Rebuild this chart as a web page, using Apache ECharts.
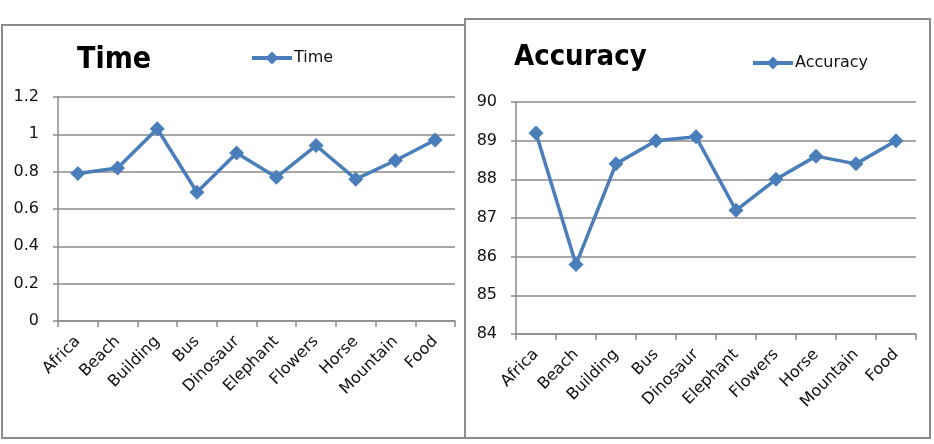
<!DOCTYPE html>
<html>
<head>
<meta charset="utf-8">
<script src="https://cdn.jsdelivr.net/npm/echarts@6/dist/echarts.min.js"></script>
<style>
  html, body { margin: 0; padding: 0; background: #fff; }
  #chart { width: 934px; height: 444px; }
</style>
</head>
<body>
<div id="chart"></div>
<script>
  // categories and values
  var categories = ['Africa', 'Beach', 'Building', 'Bus', 'Dinosaur', 'Elephant', 'Flowers', 'Horse', 'Mountain', 'Food'];
  var timeValues = [0.79, 0.82, 1.03, 0.69, 0.90, 0.77, 0.94, 0.76, 0.86, 0.97];
  var accuracyValues = [89.2, 85.8, 88.4, 89.0, 89.1, 87.2, 88.0, 88.6, 88.4, 89.0];
  var timeTicks = [0, 0.2, 0.4, 0.6, 0.8, 1, 1.2];
  var accuracyTicks = [84, 85, 86, 87, 88, 89, 90];

  var lineColor = '#4a7ebb';
  var axisGray = '#8a8a8a';
  var font = 'DejaVu Sans';

  function xAxisOf (idx) {
    return {
      type: 'category',
      gridIndex: idx,
      data: categories,
      boundaryGap: true,
      axisLine: { lineStyle: { color: axisGray, width: 1.5 } },
      axisTick: { show: true, length: 6, lineStyle: { color: axisGray, width: 1.5 } },
      axisLabel: { rotate: 45, fontSize: 16, color: '#111', fontFamily: font, margin: 18, interval: 0 }
    };
  }

  function yAxisOf (idx, ticks) {
    return {
      type: 'value',
      gridIndex: idx,
      min: ticks[0],
      max: ticks[ticks.length - 1],
      interval: ticks[1] - ticks[0],
      axisLine: { show: true, lineStyle: { color: axisGray, width: 1.5 } },
      axisTick: { show: true, length: 5, lineStyle: { color: axisGray, width: 1.5 } },
      splitLine: { lineStyle: { color: axisGray, width: 1.5 } },
      axisLabel: {
        fontSize: 16,
        color: '#111',
        fontFamily: font,
        margin: 19,
        formatter: function (v) { return String(Math.round(v * 10) / 10); }
      }
    };
  }

  function seriesOf (name, idx, data) {
    return {
      name: name,
      type: 'line',
      xAxisIndex: idx,
      yAxisIndex: idx,
      data: data,
      symbol: 'diamond',
      symbolSize: 15,
      lineStyle: { color: lineColor, width: 3.5 },
      itemStyle: { color: lineColor },
      animation: false
    };
  }

  var legendBase = {
    padding: 0,
    itemWidth: 40,
    itemHeight: 16,
    itemGap: 4,
    lineStyle: { width: 4 },
    textStyle: { fontSize: 16, fontFamily: font, color: '#111', padding: [0, 0, 0, -3] }
  };

  var myChart = echarts.init(document.getElementById('chart'));
  myChart.setOption({
    backgroundColor: '#fff',
    title: [{
      text: 'Time',
      left: 72,
      top: 40,
      textStyle: { fontSize: 30, fontWeight: 'bold', fontFamily: 'DejaVu Sans Condensed', color: '#000' }
    }, {
      text: 'Accuracy',
      left: 509,
      top: 38,
      textStyle: { fontSize: 29, fontWeight: 'bold', fontFamily: 'DejaVu Sans Condensed', color: '#000' }
    }],
    legend: [
      Object.assign({ data: ['Time'], left: 250, top: 50 }, legendBase),
      Object.assign({ data: ['Accuracy'], left: 751, top: 55 }, legendBase)
    ],
    grid: [
      { left: 58, right: 479, top: 97, bottom: 123 },
      { left: 516, right: 18, top: 102, bottom: 110 }
    ],
    xAxis: [xAxisOf(0), xAxisOf(1)],
    yAxis: [yAxisOf(0, timeTicks), yAxisOf(1, accuracyTicks)],
    series: [
      seriesOf('Time', 0, timeValues),
      seriesOf('Accuracy', 1, accuracyValues)
    ],
    graphic: [{
      type: 'rect',
      shape: { x: 2, y: 25, width: 463, height: 413 },
      style: { fill: 'none', stroke: '#8c8c8c', lineWidth: 2 },
      silent: true
    }, {
      type: 'rect',
      shape: { x: 465, y: 19, width: 465, height: 419 },
      style: { fill: 'none', stroke: '#8c8c8c', lineWidth: 2 },
      silent: true
    }]
  });
</script>
</body>
</html>
